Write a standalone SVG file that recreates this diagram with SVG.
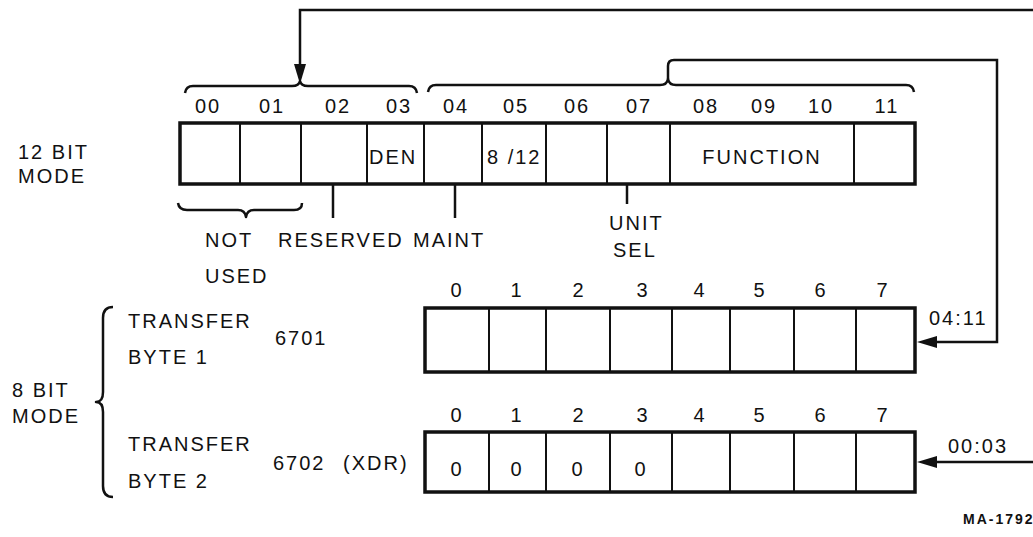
<svg xmlns="http://www.w3.org/2000/svg" width="1033" height="537" viewBox="0 0 1033 537">
<style>
text{font-family:"Liberation Sans",Arial,sans-serif;font-size:20px;fill:#111;letter-spacing:2px}
.c{text-anchor:middle}
.box{fill:#fff;stroke:#111;stroke-width:3.5}
.div{stroke:#111;stroke-width:2}
.ln{fill:none;stroke:#111;stroke-width:2.5}
.br{fill:none;stroke:#111;stroke-width:2.5;stroke-linejoin:round}
.sm{font-size:14px;font-weight:bold;letter-spacing:2px}
</style>
<defs>
<marker id="ah" markerUnits="userSpaceOnUse" markerWidth="20" markerHeight="12" viewBox="0 0 20 12" refX="0" refY="6" orient="auto">
<path d="M0,0 L20,6 L0,12 Z" fill="#111"/>
</marker>
</defs>

<g id="mode12-label">
<text x="18" y="159">12 BIT</text>
<text x="18" y="183">MODE</text>
</g>

<g id="reg12">
<rect class="box" x="180" y="123" width="735" height="61"/>
<line class="div" x1="240" y1="123" x2="240" y2="184"/>
<line class="div" x1="301" y1="123" x2="301" y2="184"/>
<line class="div" x1="367" y1="123" x2="367" y2="184"/>
<line class="div" x1="424" y1="123" x2="424" y2="184"/>
<line class="div" x1="482" y1="123" x2="482" y2="184"/>
<line class="div" x1="546" y1="123" x2="546" y2="184"/>
<line class="div" x1="607" y1="123" x2="607" y2="184"/>
<line class="div" x1="670" y1="123" x2="670" y2="184"/>
<line class="div" x1="854" y1="123" x2="854" y2="184"/>
<text x="369" y="164">DEN</text>
<text x="487" y="164">8 /12</text>
<text class="c" x="762" y="164">FUNCTION</text>
<g class="bits">
<text class="c" x="208" y="113">00</text>
<text class="c" x="272" y="113">01</text>
<text class="c" x="338" y="113">02</text>
<text class="c" x="399" y="113">03</text>
<text class="c" x="456" y="113">04</text>
<text class="c" x="516" y="113">05</text>
<text class="c" x="577" y="113">06</text>
<text class="c" x="639" y="113">07</text>
<text class="c" x="706" y="113">08</text>
<text class="c" x="764" y="113">09</text>
<text class="c" x="821" y="113">10</text>
<text class="c" x="887" y="113">11</text>
</g>
</g>

<g id="brackets-top">
<path class="br" d="M185,93 Q186,86 193,86 L292,86 Q299,86 300,81 Q301,86 308,86 L409,86 Q416,86 417,93"/>
<path class="br" d="M428,92 Q429,85 436,85 L660,85 Q667,85 668,79 Q669,85 676,85 L906,85 Q913,85 914,92"/>
</g>

<g id="annotations-12">
<line class="ln" x1="333" y1="184" x2="333" y2="218" stroke-width="2"/>
<line class="ln" x1="455" y1="184" x2="455" y2="218" stroke-width="2"/>
<line class="ln" x1="627" y1="184" x2="627" y2="204" stroke-width="2"/>
<path class="br" d="M178,203 Q179,210 187,210 L238,210 Q245,210 246,217 Q247,210 254,210 L294,210 Q302,210 302,203"/>
<text x="205" y="247">NOT</text>
<text x="278" y="247">RESERVED</text>
<text x="413" y="247">MAINT</text>
<text x="205" y="283">USED</text>
<text x="609" y="230">UNIT</text>
<text x="613" y="257">SEL</text>
</g>

<g id="mode8-label">
<text x="12" y="397">8 BIT</text>
<text x="12" y="423">MODE</text>
<path class="br" d="M113,307 Q103,307 103,318 L103,392 Q103,402 96,402 Q103,402 103,412 L103,486 Q103,497 113,497"/>
</g>

<g id="byte1">
<text x="128" y="328">TRANSFER</text>
<text x="275" y="345">6701</text>
<text x="128" y="364">BYTE 1</text>
<rect class="box" x="425" y="308" width="490" height="64"/>
<line class="div" x1="489" y1="308" x2="489" y2="372"/>
<line class="div" x1="546" y1="308" x2="546" y2="372"/>
<line class="div" x1="610" y1="308" x2="610" y2="372"/>
<line class="div" x1="672" y1="308" x2="672" y2="372"/>
<line class="div" x1="730" y1="308" x2="730" y2="372"/>
<line class="div" x1="794" y1="308" x2="794" y2="372"/>
<line class="div" x1="856" y1="308" x2="856" y2="372"/>
<text class="c" x="457" y="297">0</text>
<text class="c" x="517" y="297">1</text>
<text class="c" x="579" y="297">2</text>
<text class="c" x="643" y="297">3</text>
<text class="c" x="700" y="297">4</text>
<text class="c" x="760" y="297">5</text>
<text class="c" x="821" y="297">6</text>
<text class="c" x="883" y="297">7</text>
<text x="929" y="325">04:11</text>
</g>

<g id="byte2">
<text x="128" y="451">TRANSFER</text>
<text x="273" y="470">6702</text>
<text x="343" y="470">(XDR)</text>
<text x="128" y="488">BYTE 2</text>
<rect class="box" x="425" y="432" width="490" height="60"/>
<line class="div" x1="489" y1="432" x2="489" y2="492"/>
<line class="div" x1="546" y1="432" x2="546" y2="492"/>
<line class="div" x1="610" y1="432" x2="610" y2="492"/>
<line class="div" x1="672" y1="432" x2="672" y2="492"/>
<line class="div" x1="730" y1="432" x2="730" y2="492"/>
<line class="div" x1="794" y1="432" x2="794" y2="492"/>
<line class="div" x1="856" y1="432" x2="856" y2="492"/>
<text class="c" x="457" y="422">0</text>
<text class="c" x="517" y="422">1</text>
<text class="c" x="579" y="422">2</text>
<text class="c" x="643" y="422">3</text>
<text class="c" x="700" y="422">4</text>
<text class="c" x="760" y="422">5</text>
<text class="c" x="821" y="422">6</text>
<text class="c" x="883" y="422">7</text>
<text class="c" x="457" y="476">0</text>
<text class="c" x="517" y="476">0</text>
<text class="c" x="578" y="476">0</text>
<text class="c" x="641" y="476">0</text>
<text x="948" y="453">00:03</text>
</g>

<g id="connectors">
<path class="ln" d="M1040,10 L300,10 L300,64" marker-end="url(#ah)"/>
<path class="ln" d="M668,79 L668,66 Q668,60 674,60 L997,60 L997,342 L937,342" marker-end="url(#ah)"/>
<path class="ln" d="M1040,462 L937,462" marker-end="url(#ah)"/>
</g>

<text class="sm" x="963" y="524">MA-1792</text>
</svg>
